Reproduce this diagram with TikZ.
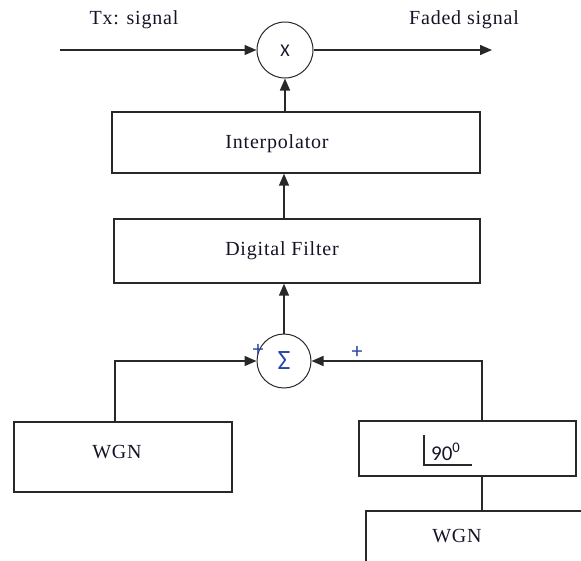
\documentclass[tikz,border=0pt]{standalone}
\usepackage{fontspec}
\setmainfont{Liberation Serif}[LetterSpace=4]
\newfontfamily\sansf{Carlito}
\usetikzlibrary{arrows.meta}
\definecolor{txtc}{RGB}{20,20,40}
\definecolor{bluec}{RGB}{40,70,170}
\definecolor{linec}{RGB}{40,40,40}
\begin{document}
\begin{tikzpicture}[x=1pt,y=-1pt,
  box/.style={draw=linec,line width=1.4pt,inner sep=0pt},
  opc/.style={circle,draw=linec,line width=1pt,inner sep=0pt,minimum size=#1},
  lab/.style={text=txtc,inner sep=0pt,font=\fontsize{20}{23}\selectfont},
  conn/.style={draw=linec,line width=1.5pt},
  arr/.style={conn,-{Triangle[length=12pt,width=10pt]}}]
\useasboundingbox (0,0) rectangle (581,560);
\clip (0,0) rectangle (581,560);

% nodes
\coordinate (txin) at (60,50);
\coordinate (out) at (492,50);
\node[opc=56pt] (mult) at (285,50) {};
\node[text=txtc,font=\sansf\fontsize{18}{20}\selectfont] (multx) at (285,51) {X};
\node[lab] (txlab) at (134,20) {Tx: signal};
\node[lab] (fadlab) at (464,20) {Faded signal};

\node[box,minimum width=368pt,minimum height=61pt] (interp) at (296,142.5) {};
\node[lab] (interplab) at (277,144) {Interpolator};

\node[box,minimum width=366pt,minimum height=64pt] (df) at (297,251) {};
\node[lab] (dflab) at (282,251) {Digital Filter};

\node[opc=54pt] (sum) at (284,361) {};
\node[text=bluec,font=\sansf\fontsize{28}{30}\selectfont] (sumsym) at (284,361) {Σ};
\node[text=bluec,font=\sansf\fontsize{22}{24}\selectfont,inner sep=0pt] (plusl) at (258,350) {+};
\node[text=bluec,font=\sansf\fontsize{22}{24}\selectfont,inner sep=0pt] (plusr) at (357,352) {+};

\node[box,minimum width=218pt,minimum height=70pt] (wgnl) at (123,457) {};
\node[lab] (wgnllab) at (117,452) {WGN};

\node[box,minimum width=217pt,minimum height=55pt] (phase) at (467.5,448.5) {};
\node[text=txtc,font=\sansf\fontsize{21}{24}\selectfont,inner sep=0pt,anchor=west] (phaselab) at (431,452) {90\textsuperscript{0}};
\coordinate (angtop) at (424,435);
\coordinate (angcorner) at (424,465);
\coordinate (angend) at (472,465);
\draw[linec,line width=1.1pt] (angtop) -- (angcorner) -- (angend);

\node[box,minimum width=274pt,minimum height=90pt] (wgnr) at (503,556) {};
\node[lab] (wgnrlab) at (457,536) {WGN};

% connectors
\draw[arr] (txin) -- (mult.west);
\draw[arr] (mult.east) -- (out);
\draw[arr] (mult |- interp.north) -- (mult.south);
\draw[arr] (sum |- df.north) -- (sum |- interp.south);
\draw[arr] (sum.north) -- (sum |- df.south);
\draw[arr] ([xshift=-8pt]wgnl.north) |- (sum.west);
\draw[arr] ([xshift=14.5pt]phase.north) |- (sum.east);
\draw[conn] ([xshift=14.5pt]phase.south) -- ([xshift=14.5pt]phase.south |- wgnr.north);
\end{tikzpicture}
\end{document}
